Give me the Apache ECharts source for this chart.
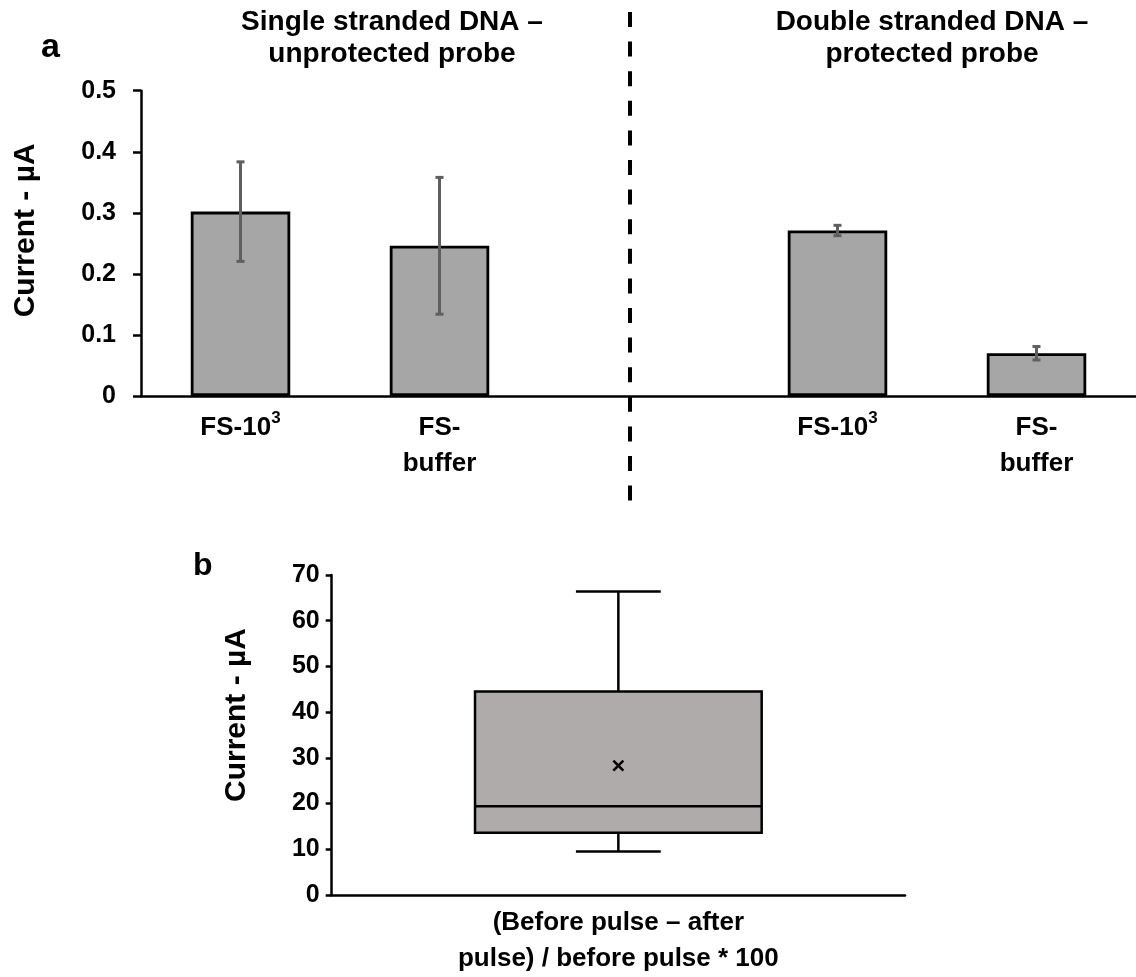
<!DOCTYPE html>
<html>
<head>
<meta charset="utf-8">
<script src="https://cdn.jsdelivr.net/npm/echarts@6/dist/echarts.min.js"></script>
<style>
  html, body { margin: 0; padding: 0; background: #fff; }
  #chart { width: 1136px; height: 977px; }
</style>
</head>
<body>
<div id="chart"></div>
<script>
// Panel a: mean current per probe/sample, with error bars
const categoriesA = ['FS-10³', 'FS-\nbuffer', '', 'FS-10³', 'FS-\nbuffer'];
const currentA = [0.302, 0.246, null, 0.271, 0.070];
const errorA = [0.0815, 0.112, null, 0.0085, 0.011];
const ticksA = { min: 0, max: 0.5, interval: 0.1 };

// Panel b: box plot summary [min, Q1, median, Q3, max] and mean
const categoriesB = ['(Before pulse – after\npulse) / before pulse * 100'];
const boxB = [9.5, 13.6, 19.4, 44.5, 66.4];
const meanB = [28.3];
const ticksB = { min: 0, max: 70, interval: 10 };

const groupTitles = ['Single stranded DNA –\nunprotected probe', 'Double stranded DNA –\nprotected probe'];
const panelLetters = ['a', 'b'];
const axisNameY = 'Current - µA';

const FONT = '"Liberation Sans", Arial, Helvetica, sans-serif';
const BLACK = '#000000';

const chart = echarts.init(document.getElementById('chart'), null, { renderer: 'canvas' });

const errorData = currentA
  .map((v, i) => (v == null ? null : [i, v - errorA[i], v + errorA[i]]))
  .filter(d => d !== null);

const boxData = [[0, ...boxB, meanB[0]]];

function axisStyle(w) {
  return { show: true, lineStyle: { color: BLACK, width: w } };
}

// Draw the "³" of a label as a raised, smaller "3"
function superscriptLabel(v) {
  if (v.indexOf('³') < 0) return v;
  return '{m|' + v.replace('³', '') + '}{s|3}';
}

const option = {
  backgroundColor: '#ffffff',
  animation: false,
  textStyle: { fontFamily: FONT },
  grid: [
    { left: 141, top: 90.7, width: 995, height: 305.3 },
    { left: 331.7, top: 575, width: 573.3, height: 320 }
  ],
  xAxis: [
    {
      type: 'category', gridIndex: 0, data: categoriesA,
      axisLine: axisStyle(2.5), axisTick: { show: false },
      axisLabel: {
        interval: 0, color: BLACK, fontFamily: FONT, fontWeight: 'bold', fontSize: 26, lineHeight: 36, margin: 14,
        formatter: superscriptLabel,
        rich: {
          m: { color: BLACK, fontFamily: FONT, fontWeight: 'bold', fontSize: 26, lineHeight: 36 },
          s: { color: BLACK, fontFamily: FONT, fontWeight: 'bold', fontSize: 17, lineHeight: 26, verticalAlign: 'top' }
        }
      }
    },
    {
      type: 'category', gridIndex: 1, data: categoriesB,
      axisLine: axisStyle(2.5), axisTick: { show: false },
      axisLabel: { interval: 0, color: BLACK, fontFamily: FONT, fontWeight: 'bold', fontSize: 26, lineHeight: 36, margin: 10 }
    }
  ],
  yAxis: [
    {
      type: 'value', gridIndex: 0, min: ticksA.min, max: ticksA.max, interval: ticksA.interval,
      splitLine: { show: false },
      axisLine: axisStyle(2.5),
      axisTick: { show: true, length: 8, lineStyle: { color: BLACK, width: 2.5 } },
      axisLabel: { color: BLACK, fontFamily: FONT, fontWeight: 'bold', fontSize: 25, margin: 25 },
      name: axisNameY, nameLocation: 'middle', nameRotate: 90, nameGap: 100,
      nameTextStyle: { color: BLACK, fontFamily: FONT, fontWeight: 'bold', fontSize: 30, padding: [0, 0, 0, 26] }
    },
    {
      type: 'value', gridIndex: 1, min: ticksB.min, max: ticksB.max, interval: ticksB.interval,
      splitLine: { show: false },
      axisLine: axisStyle(2.5),
      axisTick: { show: true, length: 6, lineStyle: { color: BLACK, width: 2.5 } },
      axisLabel: { color: BLACK, fontFamily: FONT, fontWeight: 'bold', fontSize: 25, margin: 12 },
      name: axisNameY, nameLocation: 'middle', nameRotate: 90, nameGap: 80,
      nameTextStyle: { color: BLACK, fontFamily: FONT, fontWeight: 'bold', fontSize: 30, padding: [0, 0, 0, 40] }
    }
  ],
  series: [
    {
      type: 'bar', xAxisIndex: 0, yAxisIndex: 0, data: currentA, barWidth: '50%',
      itemStyle: { color: '#a6a6a6', borderColor: BLACK, borderWidth: 2.8 },
      z: 2
    },
    {
      type: 'custom', xAxisIndex: 0, yAxisIndex: 0, data: errorData, z: 3,
      renderItem: function (params, api) {
        const lo = api.coord([api.value(0), api.value(1)]);
        const hi = api.coord([api.value(0), api.value(2)]);
        const cap = 4;
        const st = { stroke: '#5f5f5f', lineWidth: 3 };
        return {
          type: 'group',
          children: [
            { type: 'line', shape: { x1: lo[0], y1: lo[1], x2: hi[0], y2: hi[1] }, style: st },
            { type: 'line', shape: { x1: lo[0] - cap, y1: lo[1], x2: lo[0] + cap, y2: lo[1] }, style: st },
            { type: 'line', shape: { x1: hi[0] - cap, y1: hi[1], x2: hi[0] + cap, y2: hi[1] }, style: st }
          ]
        };
      }
    },
    {
      type: 'custom', xAxisIndex: 1, yAxisIndex: 1, data: boxData, z: 3,
      renderItem: function (params, api) {
        const x = api.value(0);
        const band = api.size([1, 0])[0];
        const half = band * 0.25;
        const capHalf = band * 0.074;
        const pMin = api.coord([x, api.value(1)]);
        const pQ1 = api.coord([x, api.value(2)]);
        const pMed = api.coord([x, api.value(3)]);
        const pQ3 = api.coord([x, api.value(4)]);
        const pMax = api.coord([x, api.value(5)]);
        const pMean = api.coord([x, api.value(6)]);
        const cx = pMed[0];
        const ln = { stroke: BLACK, lineWidth: 2.5 };
        const m = 5;
        return {
          type: 'group',
          children: [
            { type: 'line', shape: { x1: cx, y1: pQ3[1], x2: cx, y2: pMax[1] }, style: ln },
            { type: 'line', shape: { x1: cx - capHalf, y1: pMax[1], x2: cx + capHalf, y2: pMax[1] }, style: ln },
            { type: 'line', shape: { x1: cx, y1: pQ1[1], x2: cx, y2: pMin[1] }, style: ln },
            { type: 'line', shape: { x1: cx - capHalf, y1: pMin[1], x2: cx + capHalf, y2: pMin[1] }, style: ln },
            { type: 'rect', shape: { x: cx - half, y: pQ3[1], width: half * 2, height: pQ1[1] - pQ3[1] },
              style: { fill: '#afabab', stroke: BLACK, lineWidth: 2.5 } },
            { type: 'line', shape: { x1: cx - half, y1: pMed[1], x2: cx + half, y2: pMed[1] }, style: ln },
            { type: 'line', shape: { x1: pMean[0] - m, y1: pMean[1] - m, x2: pMean[0] + m, y2: pMean[1] + m }, style: ln },
            { type: 'line', shape: { x1: pMean[0] - m, y1: pMean[1] + m, x2: pMean[0] + m, y2: pMean[1] - m }, style: ln }
          ]
        };
      }
    }
  ],
  graphic: [
    { type: 'text', x: 41, y: 48, style: { text: panelLetters[0], font: 'bold 34px ' + FONT, fill: BLACK, verticalAlign: 'middle' } },
    { type: 'text', x: 193, y: 566, style: { text: panelLetters[1], font: 'bold 32px ' + FONT, fill: BLACK, verticalAlign: 'middle' } },
    { type: 'text', x: 392, y: 6, style: { text: groupTitles[0], font: 'bold 28px ' + FONT, fill: BLACK, align: 'center', verticalAlign: 'top', lineHeight: 32 } },
    { type: 'text', x: 932, y: 6, style: { text: groupTitles[1], font: 'bold 28px ' + FONT, fill: BLACK, align: 'center', verticalAlign: 'top', lineHeight: 32 } },
    { type: 'line', shape: { x1: 630, y1: 12, x2: 630, y2: 502 }, style: { stroke: BLACK, lineWidth: 4, lineDash: [15, 14.6] } }
  ]
};

chart.setOption(option);
</script>
</body>
</html>
